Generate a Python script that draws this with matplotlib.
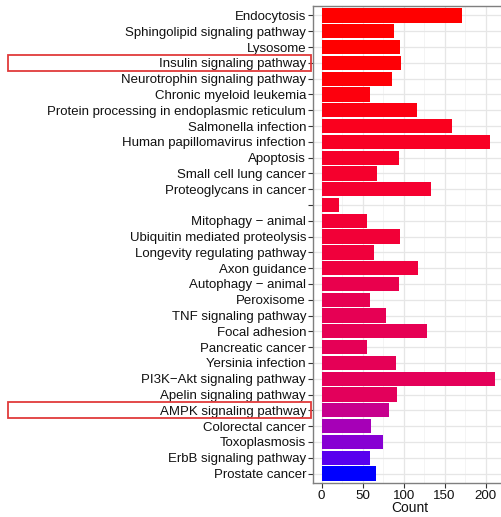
import numpy as np
import matplotlib.pyplot as plt
from matplotlib.patches import Rectangle
import matplotlib.transforms as mtransforms

save_path = "out.png"

# KEGG terms, top to bottom as shown
pathways = [
    "Endocytosis", "Sphingolipid signaling pathway", "Lysosome",
    "Insulin signaling pathway", "Neurotrophin signaling pathway",
    "Chronic myeloid leukemia", "Protein processing in endoplasmic reticulum",
    "Salmonella infection", "Human papillomavirus infection", "Apoptosis",
    "Small cell lung cancer", "Proteoglycans in cancer", "",
    "Mitophagy \u2212 animal", "Ubiquitin mediated proteolysis",
    "Longevity regulating pathway", "Axon guidance", "Autophagy \u2212 animal",
    "Peroxisome", "TNF signaling pathway", "Focal adhesion", "Pancreatic cancer",
    "Yersinia infection", "PI3K\u2212Akt signaling pathway",
    "Apelin signaling pathway", "AMPK signaling pathway", "Colorectal cancer",
    "Toxoplasmosis", "ErbB signaling pathway", "Prostate cancer",
]
counts = [171, 88, 95, 97, 86, 59, 116, 159, 206, 94, 67, 133, 21, 55, 96,
          64, 118, 94, 59, 78, 128, 55, 91, 212, 92, 82, 60, 75, 59, 66]
# relative p.adjust (0 = lowest / red, 1 = highest / blue)
padj = [0.0, 0.0, 0.0, 0.01, 0.01, 0.02, 0.03, 0.06, 0.08, 0.10, 0.11, 0.12,
        0.13, 0.14, 0.15, 0.17, 0.18, 0.24, 0.26, 0.27, 0.27, 0.28, 0.28, 0.29,
        0.30, 0.52, 0.70, 0.82, 0.93, 1.0]
highlighted = ["Insulin signaling pathway", "AMPK signaling pathway"]


# ggplot-like gradient: interpolate red -> blue in Lab space
def srgb_to_lab(rgb):
    c = np.asarray(rgb, float)
    lin = np.where(c <= 0.04045, c / 12.92, ((c + 0.055) / 1.055) ** 2.4)
    m = np.array([[0.4124, 0.3576, 0.1805],
                  [0.2126, 0.7152, 0.0722],
                  [0.0193, 0.1192, 0.9505]])
    xyz = m @ lin / np.array([0.95047, 1.0, 1.08883])
    f = np.where(xyz > 0.008856, np.cbrt(xyz), 7.787 * xyz + 16 / 116)
    return np.array([116 * f[1] - 16, 500 * (f[0] - f[1]), 200 * (f[1] - f[2])])


def lab_to_srgb(lab):
    L, a, b = lab
    fy = (L + 16) / 116
    f = np.array([fy + a / 500, fy, fy - b / 200])
    xyz = np.where(f ** 3 > 0.008856, f ** 3, (f - 16 / 116) / 7.787)
    xyz = xyz * np.array([0.95047, 1.0, 1.08883])
    minv = np.array([[3.2406, -1.5372, -0.4986],
                     [-0.9689, 1.8758, 0.0415],
                     [0.0557, -0.2040, 1.0570]])
    lin = np.clip(minv @ xyz, 0, 1)
    c = np.where(lin <= 0.0031308, 12.92 * lin, 1.055 * lin ** (1 / 2.4) - 0.055)
    return np.clip(c, 0, 1)


lab_lo = srgb_to_lab([1, 0, 0])
lab_hi = srgb_to_lab([0, 0, 1])
colors = [lab_to_srgb(lab_lo + t * (lab_hi - lab_lo)) for t in padj]

n = len(pathways)
ypos = np.arange(n, 0, -1)
fonts = ['Liberation Sans', 'DejaVu Sans']

fig = plt.figure(figsize=(5.02, 5.17), dpi=100)
ax = fig.add_axes([313 / 502, 34 / 517, 193 / 502, 477 / 517])

ax.barh(ypos, counts, height=0.9, color=colors, zorder=3)

ax.set_xlim(-10.6, 222.6)
ax.set_ylim(0.4, n + 0.6)
ax.set_xticks([0, 50, 100, 150, 200])
ax.set_xticks([25, 75, 125, 175, 225], minor=True)
ax.set_yticks(ypos)
ax.set_yticklabels(pathways, fontsize=9.5, family=fonts)
for lab in ax.get_xticklabels():
    lab.set_family(fonts)
    lab.set_fontsize(9.6)
ax.tick_params(axis='both', which='major', length=3.5, width=0.8,
               color='#333333', labelcolor='#111111', pad=1.5)
ax.tick_params(axis='x', which='minor', length=0)
ax.grid(True, which='major', color='#e6e6e6', linewidth=0.9, zorder=0)
ax.grid(True, which='minor', axis='x', color='#f0f0f0', linewidth=0.5, zorder=0)
ax.set_axisbelow(True)
for sp in ax.spines.values():
    sp.set_color('#7f7f7f')
    sp.set_linewidth(1.0)
ax.set_xlabel("Count", fontsize=10, family=fonts, color='#111111', labelpad=-1)

# red boxes around highlighted labels (x in figure coords, y in data coords)
trans = mtransforms.blended_transform_factory(fig.transFigure, ax.transData)
for name in highlighted:
    y = ypos[pathways.index(name)]
    ax.add_patch(Rectangle((8.5 / 502, y - 0.5), 302.5 / 502, 1.0,
                           transform=trans, fill=False, edgecolor='#e03a3a',
                           linewidth=1.3, clip_on=False, zorder=5))

plt.savefig(save_path, dpi=100)
